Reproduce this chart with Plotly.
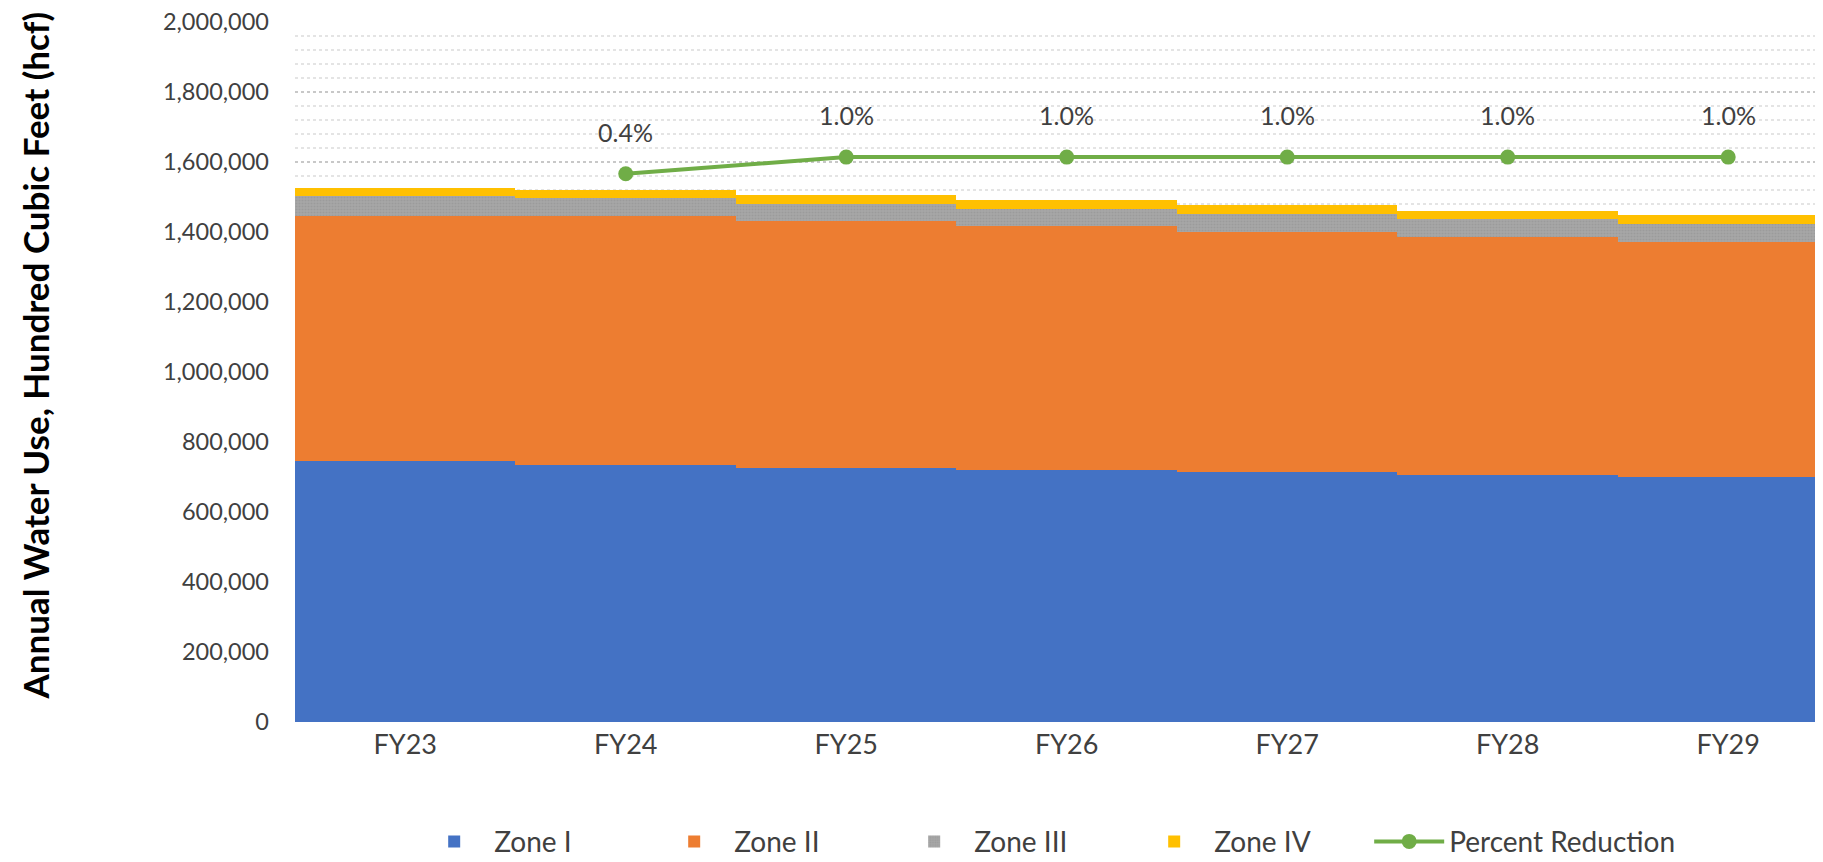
import plotly.graph_objects as go

years = ["FY23", "FY24", "FY25", "FY26", "FY27", "FY28", "FY29"]
zone1 = [745000, 735000, 725000, 719000, 714000, 705000, 700000]
zone2 = [701600, 711600, 706400, 697300, 686900, 680700, 671000]
zone3 = [55400, 49700, 49500, 50000, 50500, 50600, 51000]
zone4 = [24600, 24600, 25700, 24600, 24900, 24600, 25600]
pct_reduction = [None, 0.4, 1.0, 1.0, 1.0, 1.0, 1.0]
pct_labels = [None, "0.4%", "1.0%", "1.0%", "1.0%", "1.0%", "1.0%"]
y_ticks = [0, 200000, 400000, 600000, 800000, 1000000, 1200000,
           1400000, 1600000, 1800000, 2000000]
y_title = "Annual Water Use, Hundred Cubic Feet (hcf)"

FONT = "Lato, 'Open Sans', sans-serif"
TXT = "#404040"

fig = go.Figure()
fig.add_trace(go.Bar(x=years, y=zone1, name="Zone I", marker=dict(color="#4472C4", line=dict(width=0))))
fig.add_trace(go.Bar(x=years, y=zone2, name="Zone II", marker=dict(color="#ED7D31", line=dict(width=0))))
fig.add_trace(go.Bar(x=years, y=zone3, name="Zone III",
                     marker=dict(color="#A5A5A5", line=dict(width=0),
                                 pattern=dict(shape=".", size=3, solidity=0.4,
                                              fgcolor="#8E8E8E", bgcolor="#A8A8A8"))))
fig.add_trace(go.Bar(x=years, y=zone4, name="Zone IV", marker=dict(color="#FFC000", line=dict(width=0))))
fig.add_trace(go.Scatter(x=years, y=pct_reduction, name="Percent Reduction", yaxis="y2",
                         mode="lines+markers", legend="legend2",
                         line=dict(color="#70AD47", width=4),
                         marker=dict(color="#70AD47", size=15)))

for x, v, t in zip(years, pct_reduction, pct_labels):
    if v is None:
        continue
    fig.add_annotation(x=x, y=v, yref="y2", text=t, showarrow=False,
                       yshift=42, font=dict(family=FONT, size=25, color="#404040"))

# y-axis title as a rotated annotation so its vertical position can match
fig.add_annotation(text=y_title, textangle=-90, showarrow=False,
                   xref="paper", yref="paper", x=-0.170, y=0.524,
                   xanchor="center", yanchor="middle",
                   font=dict(family=FONT, size=35, color="#000000", weight="bold"))

# page is drawn with an 8px body margin, so the figure is 8px smaller each way
fig.update_layout(
    width=1815, height=854,
    barmode="stack", bargap=0,
    plot_bgcolor="white", paper_bgcolor="white",
    margin=dict(l=287, r=0, t=14, b=140, autoexpand=False),
    font=dict(family=FONT, size=23, color=TXT),
    showlegend=True,
    legend=dict(orientation="h", x=0.078, xanchor="left", y=-0.171, yanchor="middle",
                font=dict(family=FONT, size=28, color=TXT),
                entrywidth=155, entrywidthmode="pixels", itemwidth=70,
                traceorder="normal"),
    legend2=dict(orientation="h", x=0.703, xanchor="left", y=-0.171, yanchor="middle",
                 font=dict(family=FONT, size=28, color=TXT), itemwidth=70),
    xaxis=dict(range=[-0.5, 6.43], showgrid=False, showline=False, ticks="",
               automargin=False, ticklabeloverflow="allow",
               tickfont=dict(family=FONT, size=27, color=TXT), ticklabelstandoff=4),
    yaxis=dict(range=[0, 2000000], tickvals=y_ticks, tickformat=",d",
               automargin=False, ticklabeloverflow="allow",
               showgrid=True, gridcolor="#C8C8C8", griddash="dot", gridwidth=1.5,
               minor=dict(dtick=40000, showgrid=True, gridcolor="#E4E4E4", griddash="dot", gridwidth=1.5),
               zeroline=False, showline=False, ticks="",
               ticklabelstandoff=25,
               tickfont=dict(family=FONT, size=23.5, color=TXT)),
    yaxis2=dict(overlaying="y", side="right", range=[-19.32, 5.86], visible=False,
                showgrid=False, automargin=False),
)

fig.write_html("out.html")
